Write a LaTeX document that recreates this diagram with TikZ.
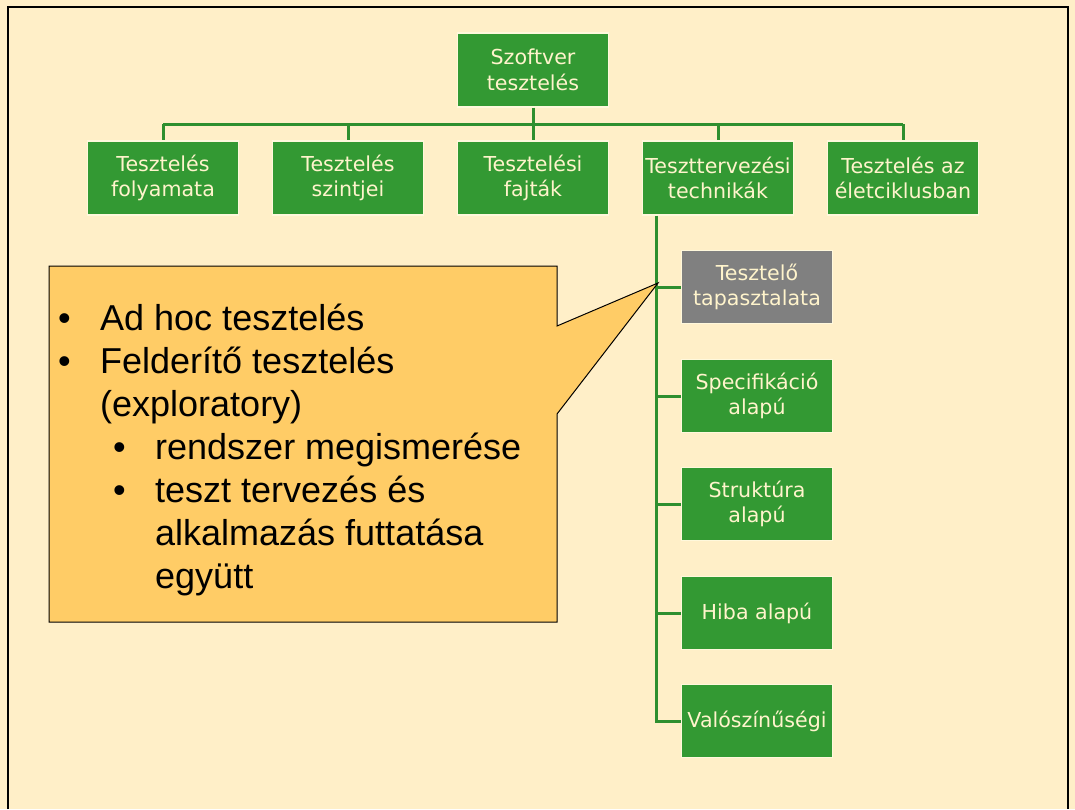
\documentclass[tikz,border=0pt]{standalone}
\usepackage{fontspec}
\setmainfont{Liberation Sans}
\newfontfamily\boxfont{DejaVu Sans}
\usetikzlibrary{calc}
\definecolor{bg}{HTML}{FFEFC8}
\definecolor{boxgreen}{HTML}{339933}
\definecolor{boxgray}{HTML}{808080}
\definecolor{linegreen}{HTML}{2F8F2F}
\definecolor{boxtext}{HTML}{FFF4CC}
\definecolor{boxedge}{HTML}{FFF8DC}
\definecolor{callfill}{HTML}{FFCC66}
\tikzset{
  x=1pt, y=-1pt,
  topic/.style={fill=boxgreen, draw=boxedge, line width=1.2pt, text=boxtext,
    font=\boxfont\fontsize{20.6}{25.5}\selectfont, align=center,
    minimum width=151pt, minimum height=74pt, inner sep=0pt},
  greytopic/.style={topic, fill=boxgray},
  link/.style={draw=linegreen, line width=3pt},
  bul/.style={anchor=base west, inner sep=0pt, font=\fontsize{36}{43}\selectfont},
}
\begin{document}
\begin{tikzpicture}
  % page and frame
  \fill[bg] (0,0) rectangle (1075,809);
  \useasboundingbox (0,0) rectangle (1075,809);
  \draw[line width=2pt] (8,809) -- (8,7) -- (1068,7) -- (1068,809);

  % top levels
  \node[topic] (root) at (533,70) {Szoftver\\tesztelés};
  \node[topic] (l1) at (163,178) {Tesztelés\\folyamata};
  \node[topic] (l2) at (348,178) {Tesztelés\\szintjei};
  \node[topic] (l3) at (533,178) {Tesztelési\\fajták};
  \node[topic] (l4) at (718,178) {Teszttervezési\\technikák};
  \node[topic] (l5) at (903,178) {Tesztelés az\\életciklusban};

  % children of the test design node
  \node[greytopic, minimum height=73pt] (c1) at (757,287) {Tesztelő\\tapasztalata};
  \node[topic, minimum height=73pt] (c2) at (757,396) {Specifikáció\\alapú};
  \node[topic, minimum height=73pt] (c3) at (757,504) {Struktúra\\alapú};
  \node[topic, minimum height=73pt] (c4) at (757,613) {Hiba alapú};
  \node[topic, minimum height=73pt] (c5) at (757,721) {Valószínűségi};

  % tree connectors
  \coordinate (bus) at (533,124);
  \draw[link] (root.south) -- (l3.north);
  \draw[link] (l1.north |- bus) -- (l5.north |- bus);
  \foreach \n in {l1,l2,l4,l5} \draw[link] (\n.north |- bus) -- (\n.north);
  \coordinate (trunk) at ($(l4.south west)+(15,0)$);
  \draw[link] (trunk) -- (trunk |- c5.west) -- (c5.west);
  \foreach \n in {c1,c2,c3,c4} \draw[link] (trunk |- \n.west) -- (\n.west);

  % callout
  \coordinate (tip) at (658,283);
  \draw[fill=callfill, draw=black, line width=1pt]
    (49,266) -- (557,266) -- (557,326) -- (tip) -- (557,414)
    -- (557,622) -- (49,622) -- cycle;

  \node[bul] (d1) at (58,330) {•};
  \node[bul] (t1) at (100,330) {Ad hoc tesztelés};
  \node[bul] (d2) at (58,373) {•};
  \node[bul] (t2) at (100,373) {Felderítő tesztelés};
  \node[bul] (t3) at (100,416) {(exploratory)};
  \node[bul] (d4) at (113,459) {•};
  \node[bul] (t4) at (155,459) {rendszer megismerése};
  \node[bul] (d5) at (113,502) {•};
  \node[bul] (t5) at (155,502) {teszt tervezés és};
  \node[bul] (t6) at (155,545) {alkalmazás futtatása};
  \node[bul] (t7) at (155,588) {együtt};
\end{tikzpicture}
\end{document}
